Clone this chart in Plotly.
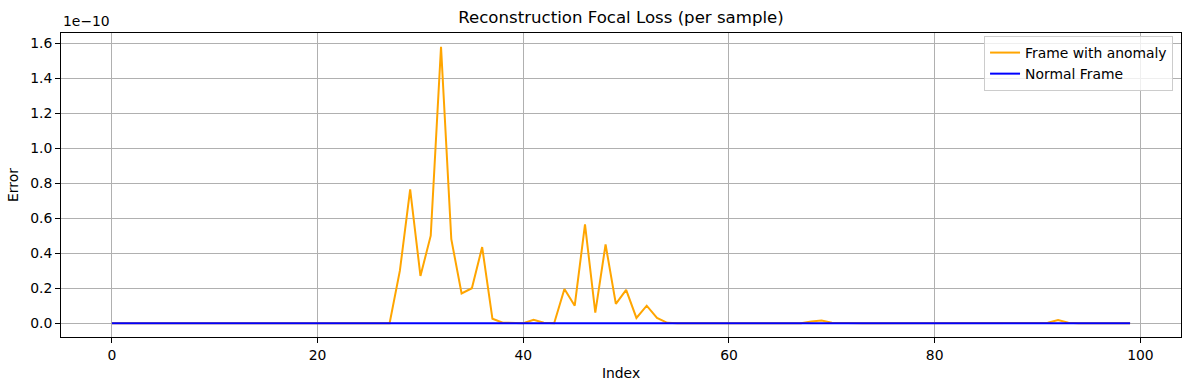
import numpy as np
import plotly.graph_objects as go

# values in units of 1e-10
index = list(range(100))
anomaly = [0.0]*100
anomaly_pts = {
    22: 0.002, 25: 0.003, 26: 0.004, 27: 0.0,
    28: 0.30, 29: 0.765, 30: 0.27, 31: 0.50, 32: 1.58, 33: 0.48,
    34: 0.17, 35: 0.20, 36: 0.435, 37: 0.025, 38: 0.003, 39: 0.0,
    40: 0.0, 41: 0.02, 42: 0.003, 43: 0.0, 44: 0.195, 45: 0.10,
    46: 0.565, 47: 0.06, 48: 0.45, 49: 0.11, 50: 0.19, 51: 0.03,
    52: 0.10, 53: 0.03, 54: 0.002, 60: 0.001, 64: 0.003, 68: 0.01,
    69: 0.015, 70: 0.002, 76: 0.002, 87: 0.002, 91: 0.002, 92: 0.018,
    93: 0.002,
}
for k, v in anomaly_pts.items():
    anomaly[k] = v
normal = [0.0]*100
normal_pts = {22: 0.001, 61: 0.001, 64: 0.001, 76: 0.001, 87: 0.001}
for k, v in normal_pts.items():
    normal[k] = v

scale = 1e-10
ytick_vals = [0.0, 0.2, 0.4, 0.6, 0.8, 1.0, 1.2, 1.4, 1.6]
ytick_text = ["0.0", "0.2", "0.4", "0.6", "0.8", "1.0", "1.2", "1.4", "1.6"]
xtick_vals = [0, 20, 40, 60, 80, 100]

font = "DejaVu Sans"
fig = go.Figure()
fig.add_trace(go.Scatter(x=index, y=np.array(anomaly)*scale, mode="lines",
                         name="Frame with anomaly", line=dict(color="orange", width=2)))
fig.add_trace(go.Scatter(x=index, y=np.array(normal)*scale, mode="lines",
                         name="Normal Frame", line=dict(color="blue", width=2)))

axis_common = dict(showline=True, linecolor="black", linewidth=1, mirror=True,
                   ticks="outside", ticklen=5, tickcolor="black", automargin=False,
                   showgrid=True, gridcolor="#b0b0b0", gridwidth=1, zeroline=False,
                   tickfont=dict(family=font, size=13.9, color="black"))
ymax = max(anomaly)
L, R, T, B = 61, 8, 33, 53
fig.update_layout(
    width=1189, height=390,
    margin=dict(l=L, r=R, t=T, b=B),
    plot_bgcolor="white", paper_bgcolor="white",
    title=dict(text="Reconstruction Focal Loss (per sample)", x=(L+1189-R)/2/1189, xanchor="center",
               y=1-17/390, yanchor="middle", font=dict(family=font, size=16.6, color="black")),
    xaxis=dict(range=[-4.95, 103.95], tickvals=xtick_vals,
               title=dict(text="Index", font=dict(family=font, size=13.9, color="black"), standoff=6),
               **axis_common),
    yaxis=dict(range=[-0.05*ymax*scale, 1.05*ymax*scale], tickvals=[v*scale for v in ytick_vals],
               ticktext=ytick_text,
               title=dict(text="Error", font=dict(family=font, size=13.9, color="black"), standoff=8),
               **axis_common),
    legend=dict(x=0.9929, y=0.99, xanchor="right", yanchor="top", bgcolor="rgba(255,255,255,0.8)",
                bordercolor="#cccccc", borderwidth=1, tracegroupgap=0, itemwidth=30,
                font=dict(family=font, size=13.9, color="black")),
    annotations=[dict(text="1e\u221210", xref="paper", yref="paper", x=0, y=1, xanchor="left",
                      yanchor="bottom", showarrow=False, yshift=2,
                      font=dict(family=font, size=13.9, color="black"))],
)
fig.write_html("out.html", config={"displayModeBar": False},
               post_script="document.body.style.margin='0';")
